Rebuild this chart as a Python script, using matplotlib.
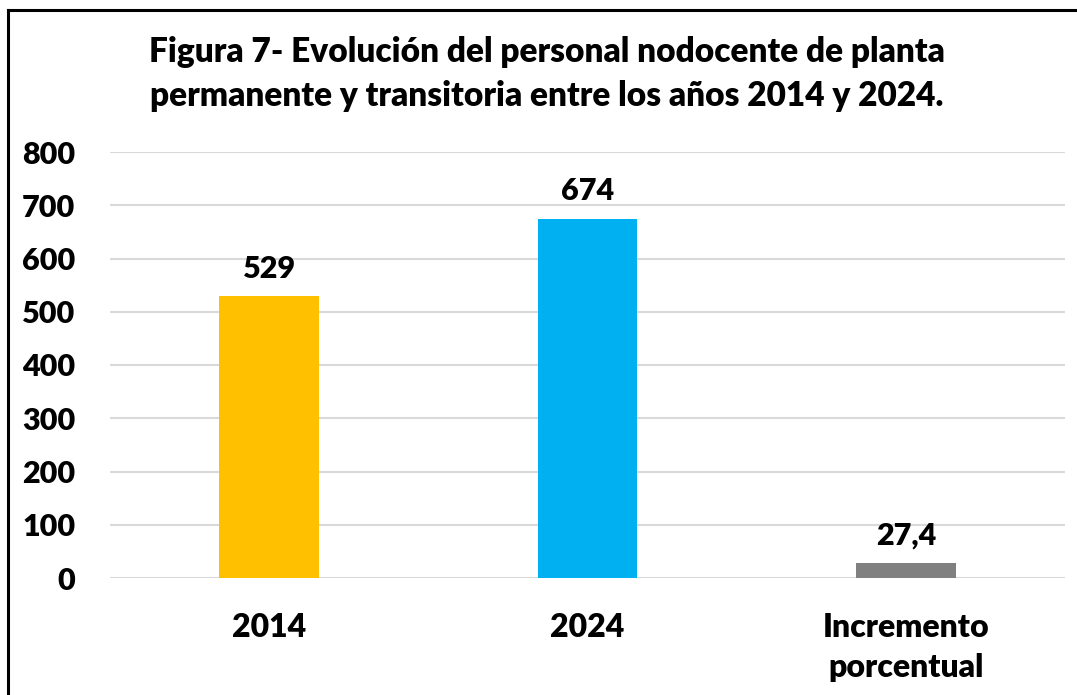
import matplotlib.pyplot as plt
from matplotlib.lines import Line2D

categories = ['2014', '2024', 'Incremento\nporcentual']
values = [529, 674, 27.4]
value_labels = ['529', '674', '27,4']
colors = ['#FFC000', '#00B0F0', '#808080']
yticks = [0, 100, 200, 300, 400, 500, 600, 700, 800]

plt.rcParams['font.family'] = ['Lato', 'DejaVu Sans']
FW = 'heavy'

W, H = 1077, 695
fig = plt.figure(figsize=(W / 100, H / 100), dpi=100)
ax = fig.add_axes([110 / W, 1 - 578 / H, (1065 - 110) / W, (578 - 152) / H])

x = range(len(categories))
bars = ax.bar(x, values, width=0.314, color=colors, zorder=3)

for b, lab in zip(bars, value_labels):
    ax.annotate(lab, (b.get_x() + b.get_width() / 2, b.get_height()),
                xytext=(0, 20), textcoords='offset points',
                ha='center', va='center', fontsize=22, fontweight=FW)

ax.set_xlim(-0.5, 2.5)
ax.set_ylim(0, 800)
ax.set_yticks(yticks)
ax.set_yticklabels([str(t) for t in yticks], fontsize=22, fontweight=FW)
ax.set_xticks(list(x))
ax.set_xticklabels(categories, fontsize=23, fontweight=FW, linespacing=1.45)
ax.tick_params(axis='both', length=0)
ax.tick_params(axis='y', pad=25)
ax.tick_params(axis='x', pad=25)

ax.grid(axis='y', color='#D9D9D9', linewidth=1.5, zorder=0)
for s in ax.spines.values():
    s.set_visible(False)

fig.text(0.508, 1 - 74 / H,
         'Figura 7- Evolución del personal nodocente de planta\n'
         'permanente y transitoria entre los años 2014 y 2024.',
         ha='center', va='center', fontsize=24, fontweight=FW,
         linespacing=1.45)

# chart frame (top and left edges visible)
fig.add_artist(Line2D([8 / W, 1.0], [1 - 10 / H, 1 - 10 / H], color='black', linewidth=2.2))
fig.add_artist(Line2D([8 / W, 8 / W], [0.0, 1 - 10 / H], color='black', linewidth=2.2))

fig.savefig('out.png', dpi=100)
